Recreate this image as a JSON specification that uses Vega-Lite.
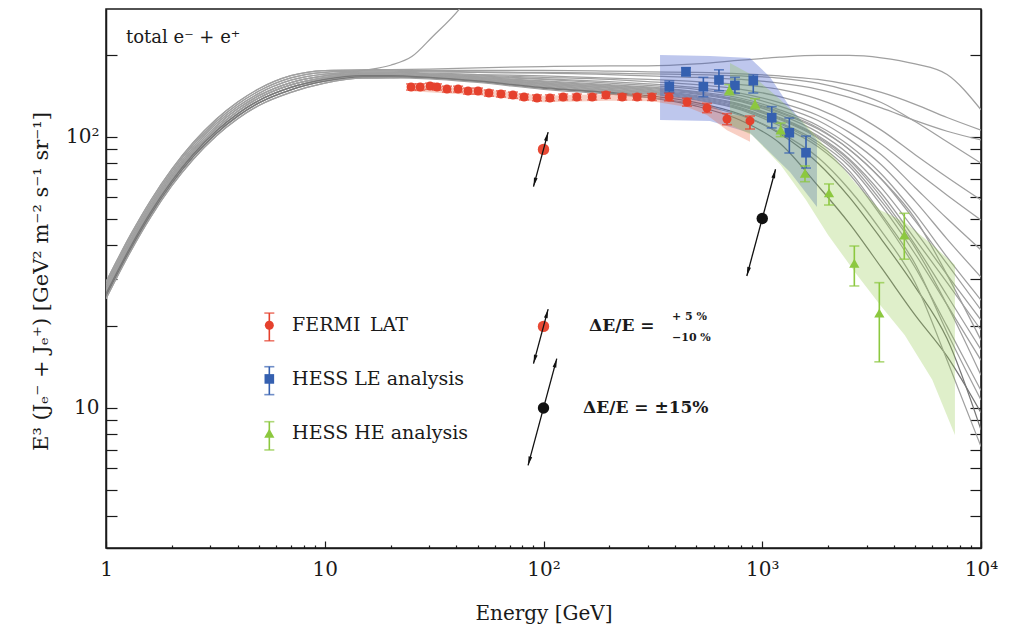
{
"$schema": "https://vega.github.io/schema/vega-lite/v6.json",
"width": 875, "height": 539,
"autosize": {"type": "none"},
"padding": {"left": 106, "top": 9, "right": 34, "bottom": 79},
"background": "white",
"config": {"view": {"stroke": "#1a1a1a", "strokeWidth": 1.5}, "font": "DejaVu Serif"},
"resolve": {"axis": {"y": "independent"}},
"datasets": {
"curves": [
{"c":"c0","e":1,"v":27.5},{"c":"c0","e":1.3,"v":41.3},{"c":"c0","e":1.6,"v":55},{"c":"c0","e":2,"v":71.8},{"c":"c0","e":2.5,"v":89.8},{"c":"c0","e":3.2,"v":109.9},{"c":"c0","e":4,"v":127},{"c":"c0","e":5,"v":142.1},{"c":"c0","e":7,"v":158.8},{"c":"c0","e":10,"v":168.2},{"c":"c0","e":15,"v":176},{"c":"c0","e":20,"v":184},{"c":"c0","e":25,"v":198},{"c":"c0","e":31,"v":234},{"c":"c0","e":41.6,"v":299},{"c":"c0","e":55,"v":420},
{"c":"c1","e":1,"v":29.2},{"c":"c1","e":1.3,"v":43.8},{"c":"c1","e":1.6,"v":58.3},{"c":"c1","e":2,"v":76.1},{"c":"c1","e":2.5,"v":95.2},{"c":"c1","e":3.2,"v":116.5},{"c":"c1","e":4,"v":134.6},{"c":"c1","e":5,"v":150.6},{"c":"c1","e":7,"v":168.3},{"c":"c1","e":10,"v":175.8},{"c":"c1","e":15,"v":177},{"c":"c1","e":20,"v":177.2},{"c":"c1","e":30,"v":178},{"c":"c1","e":50,"v":180},{"c":"c1","e":100,"v":182},{"c":"c1","e":200,"v":183},{"c":"c1","e":300,"v":183},{"c":"c1","e":500,"v":186},{"c":"c1","e":800,"v":192},{"c":"c1","e":1200,"v":197},{"c":"c1","e":1800,"v":200},{"c":"c1","e":2500,"v":200},{"c":"c1","e":3500,"v":196},{"c":"c1","e":5000,"v":186},{"c":"c1","e":7000,"v":170},{"c":"c1","e":10000,"v":126},
{"c":"c2","e":1,"v":28.6},{"c":"c2","e":1.3,"v":43},{"c":"c2","e":1.6,"v":57.2},{"c":"c2","e":2,"v":74.7},{"c":"c2","e":2.5,"v":93.4},{"c":"c2","e":3.2,"v":114.3},{"c":"c2","e":4,"v":132.1},{"c":"c2","e":5,"v":147.8},{"c":"c2","e":7,"v":165.2},{"c":"c2","e":10,"v":173.2},{"c":"c2","e":15,"v":175.2},{"c":"c2","e":20,"v":175.4},{"c":"c2","e":30,"v":176},{"c":"c2","e":50,"v":176},{"c":"c2","e":100,"v":176},{"c":"c2","e":200,"v":175},{"c":"c2","e":300,"v":174},{"c":"c2","e":500,"v":173},{"c":"c2","e":800,"v":171},{"c":"c2","e":1200,"v":168},{"c":"c2","e":1800,"v":163},{"c":"c2","e":2500,"v":156},{"c":"c2","e":3500,"v":146},{"c":"c2","e":5000,"v":132},{"c":"c2","e":7000,"v":118},{"c":"c2","e":10000,"v":106},
{"c":"c3","e":1,"v":27.5},{"c":"c3","e":1.3,"v":41.3},{"c":"c3","e":1.6,"v":55},{"c":"c3","e":2,"v":71.8},{"c":"c3","e":2.5,"v":89.8},{"c":"c3","e":3.2,"v":109.9},{"c":"c3","e":4,"v":127},{"c":"c3","e":5,"v":142.1},{"c":"c3","e":7,"v":158.8},{"c":"c3","e":10,"v":168.2},{"c":"c3","e":15,"v":171.8},{"c":"c3","e":20,"v":172},{"c":"c3","e":30,"v":174},{"c":"c3","e":50,"v":173},{"c":"c3","e":100,"v":172},{"c":"c3","e":200,"v":170},{"c":"c3","e":300,"v":168},{"c":"c3","e":500,"v":166},{"c":"c3","e":800,"v":163},{"c":"c3","e":1200,"v":158},{"c":"c3","e":1800,"v":150},{"c":"c3","e":2500,"v":140},{"c":"c3","e":3500,"v":128},{"c":"c3","e":5000,"v":115},{"c":"c3","e":7000,"v":105},{"c":"c3","e":10000,"v":97.5},
{"c":"c4","e":1,"v":28.1},{"c":"c4","e":1.3,"v":42.1},{"c":"c4","e":1.6,"v":56.1},{"c":"c4","e":2,"v":73.2},{"c":"c4","e":2.5,"v":91.6},{"c":"c4","e":3.2,"v":112.1},{"c":"c4","e":4,"v":129.5},{"c":"c4","e":5,"v":144.9},{"c":"c4","e":7,"v":162},{"c":"c4","e":10,"v":170.7},{"c":"c4","e":15,"v":173.5},{"c":"c4","e":20,"v":173.7},{"c":"c4","e":30,"v":175},{"c":"c4","e":50,"v":174},{"c":"c4","e":100,"v":173},{"c":"c4","e":200,"v":172},{"c":"c4","e":300,"v":171},{"c":"c4","e":500,"v":170},{"c":"c4","e":800,"v":168},{"c":"c4","e":1200,"v":165},{"c":"c4","e":1800,"v":158},{"c":"c4","e":2500,"v":148},{"c":"c4","e":3500,"v":134},{"c":"c4","e":5000,"v":114},{"c":"c4","e":7000,"v":96},{"c":"c4","e":10000,"v":80},
{"c":"c5","e":1,"v":27},{"c":"c5","e":1.3,"v":40.5},{"c":"c5","e":1.6,"v":53.9},{"c":"c5","e":2,"v":70.4},{"c":"c5","e":2.5,"v":88},{"c":"c5","e":3.2,"v":107.7},{"c":"c5","e":4,"v":124.5},{"c":"c5","e":5,"v":139.3},{"c":"c5","e":7,"v":155.6},{"c":"c5","e":10,"v":165.7},{"c":"c5","e":15,"v":170.1},{"c":"c5","e":20,"v":170.3},{"c":"c5","e":30,"v":172},{"c":"c5","e":50,"v":170},{"c":"c5","e":100,"v":168},{"c":"c5","e":200,"v":165},{"c":"c5","e":300,"v":163},{"c":"c5","e":500,"v":160},{"c":"c5","e":800,"v":156},{"c":"c5","e":1200,"v":150},{"c":"c5","e":1800,"v":138},{"c":"c5","e":2500,"v":124},{"c":"c5","e":3500,"v":106},{"c":"c5","e":5000,"v":86},{"c":"c5","e":7000,"v":71},{"c":"c5","e":10000,"v":58.5},
{"c":"c6","e":1,"v":27.5},{"c":"c6","e":1.3,"v":41.3},{"c":"c6","e":1.6,"v":55},{"c":"c6","e":2,"v":71.8},{"c":"c6","e":2.5,"v":89.8},{"c":"c6","e":3.2,"v":109.9},{"c":"c6","e":4,"v":127},{"c":"c6","e":5,"v":142.1},{"c":"c6","e":7,"v":158.8},{"c":"c6","e":10,"v":168.2},{"c":"c6","e":15,"v":171.8},{"c":"c6","e":20,"v":172},{"c":"c6","e":30,"v":171},{"c":"c6","e":50,"v":169},{"c":"c6","e":100,"v":166},{"c":"c6","e":200,"v":163},{"c":"c6","e":300,"v":160},{"c":"c6","e":500,"v":156},{"c":"c6","e":800,"v":150},{"c":"c6","e":1200,"v":141},{"c":"c6","e":1800,"v":127},{"c":"c6","e":2500,"v":112},{"c":"c6","e":3500,"v":94},{"c":"c6","e":5000,"v":75},{"c":"c6","e":7000,"v":61},{"c":"c6","e":10000,"v":49.4},
{"c":"c7","e":1,"v":26.4},{"c":"c7","e":1.3,"v":39.6},{"c":"c7","e":1.6,"v":52.8},{"c":"c7","e":2,"v":68.9},{"c":"c7","e":2.5,"v":86.2},{"c":"c7","e":3.2,"v":105.5},{"c":"c7","e":4,"v":121.9},{"c":"c7","e":5,"v":136.4},{"c":"c7","e":7,"v":152.4},{"c":"c7","e":10,"v":163.2},{"c":"c7","e":15,"v":168.4},{"c":"c7","e":20,"v":168.6},{"c":"c7","e":30,"v":170},{"c":"c7","e":50,"v":168},{"c":"c7","e":100,"v":164},{"c":"c7","e":200,"v":160},{"c":"c7","e":300,"v":157},{"c":"c7","e":500,"v":152},{"c":"c7","e":800,"v":145},{"c":"c7","e":1200,"v":134},{"c":"c7","e":1800,"v":120},{"c":"c7","e":2500,"v":104},{"c":"c7","e":3500,"v":86},{"c":"c7","e":5000,"v":65},{"c":"c7","e":7000,"v":50},{"c":"c7","e":10000,"v":38.3},
{"c":"c8","e":1,"v":28.6},{"c":"c8","e":1.3,"v":43},{"c":"c8","e":1.6,"v":57.2},{"c":"c8","e":2,"v":74.7},{"c":"c8","e":2.5,"v":93.4},{"c":"c8","e":3.2,"v":114.3},{"c":"c8","e":4,"v":132.1},{"c":"c8","e":5,"v":147.8},{"c":"c8","e":7,"v":165.2},{"c":"c8","e":10,"v":173.2},{"c":"c8","e":15,"v":175.2},{"c":"c8","e":20,"v":175.4},{"c":"c8","e":30,"v":170},{"c":"c8","e":50,"v":167},{"c":"c8","e":100,"v":163},{"c":"c8","e":200,"v":158},{"c":"c8","e":300,"v":155},{"c":"c8","e":500,"v":150},{"c":"c8","e":800,"v":142},{"c":"c8","e":1200,"v":130},{"c":"c8","e":1800,"v":115},{"c":"c8","e":2500,"v":98},{"c":"c8","e":3500,"v":79},{"c":"c8","e":5000,"v":58},{"c":"c8","e":7000,"v":42},{"c":"c8","e":10000,"v":30.4},
{"c":"c9","e":1,"v":27},{"c":"c9","e":1.3,"v":40.5},{"c":"c9","e":1.6,"v":53.9},{"c":"c9","e":2,"v":70.4},{"c":"c9","e":2.5,"v":88},{"c":"c9","e":3.2,"v":107.7},{"c":"c9","e":4,"v":124.5},{"c":"c9","e":5,"v":139.3},{"c":"c9","e":7,"v":155.6},{"c":"c9","e":10,"v":165.7},{"c":"c9","e":15,"v":170.1},{"c":"c9","e":20,"v":170.3},{"c":"c9","e":30,"v":169},{"c":"c9","e":50,"v":166},{"c":"c9","e":100,"v":161},{"c":"c9","e":200,"v":156},{"c":"c9","e":300,"v":153},{"c":"c9","e":500,"v":147},{"c":"c9","e":800,"v":139},{"c":"c9","e":1200,"v":126},{"c":"c9","e":1800,"v":110},{"c":"c9","e":2500,"v":93},{"c":"c9","e":3500,"v":73},{"c":"c9","e":5000,"v":52},{"c":"c9","e":7000,"v":36},{"c":"c9","e":10000,"v":25},
{"c":"c10","e":1,"v":28.1},{"c":"c10","e":1.3,"v":42.1},{"c":"c10","e":1.6,"v":56.1},{"c":"c10","e":2,"v":73.2},{"c":"c10","e":2.5,"v":91.6},{"c":"c10","e":3.2,"v":112.1},{"c":"c10","e":4,"v":129.5},{"c":"c10","e":5,"v":144.9},{"c":"c10","e":7,"v":162},{"c":"c10","e":10,"v":170.7},{"c":"c10","e":15,"v":173.5},{"c":"c10","e":20,"v":173.7},{"c":"c10","e":30,"v":170},{"c":"c10","e":50,"v":166},{"c":"c10","e":100,"v":160},{"c":"c10","e":200,"v":155},{"c":"c10","e":300,"v":152},{"c":"c10","e":500,"v":146},{"c":"c10","e":800,"v":137},{"c":"c10","e":1200,"v":124},{"c":"c10","e":1800,"v":108},{"c":"c10","e":2500,"v":90},{"c":"c10","e":3500,"v":70},{"c":"c10","e":5000,"v":49},{"c":"c10","e":7000,"v":34},{"c":"c10","e":10000,"v":23},
{"c":"c11","e":1,"v":26.4},{"c":"c11","e":1.3,"v":39.6},{"c":"c11","e":1.6,"v":52.8},{"c":"c11","e":2,"v":68.9},{"c":"c11","e":2.5,"v":86.2},{"c":"c11","e":3.2,"v":105.5},{"c":"c11","e":4,"v":121.9},{"c":"c11","e":5,"v":136.4},{"c":"c11","e":7,"v":152.4},{"c":"c11","e":10,"v":163.2},{"c":"c11","e":15,"v":168.4},{"c":"c11","e":20,"v":168.6},{"c":"c11","e":30,"v":168},{"c":"c11","e":50,"v":164},{"c":"c11","e":100,"v":158},{"c":"c11","e":200,"v":153},{"c":"c11","e":300,"v":150},{"c":"c11","e":500,"v":144},{"c":"c11","e":800,"v":135},{"c":"c11","e":1200,"v":121},{"c":"c11","e":1800,"v":104},{"c":"c11","e":2500,"v":86},{"c":"c11","e":3500,"v":65},{"c":"c11","e":5000,"v":45},{"c":"c11","e":7000,"v":31},{"c":"c11","e":10000,"v":21.1},
{"c":"c12","e":1,"v":25.9},{"c":"c12","e":1.3,"v":38.8},{"c":"c12","e":1.6,"v":51.7},{"c":"c12","e":2,"v":67.5},{"c":"c12","e":2.5,"v":84.4},{"c":"c12","e":3.2,"v":103.3},{"c":"c12","e":4,"v":119.4},{"c":"c12","e":5,"v":133.6},{"c":"c12","e":7,"v":149.3},{"c":"c12","e":10,"v":160.6},{"c":"c12","e":15,"v":166.6},{"c":"c12","e":20,"v":166.8},{"c":"c12","e":30,"v":167},{"c":"c12","e":50,"v":163},{"c":"c12","e":100,"v":157},{"c":"c12","e":200,"v":152},{"c":"c12","e":300,"v":149},{"c":"c12","e":500,"v":142},{"c":"c12","e":800,"v":132},{"c":"c12","e":1200,"v":118},{"c":"c12","e":1800,"v":101},{"c":"c12","e":2500,"v":83},{"c":"c12","e":3500,"v":62},{"c":"c12","e":5000,"v":42},{"c":"c12","e":7000,"v":29},{"c":"c12","e":10000,"v":19.4},
{"c":"c13","e":1,"v":25.3},{"c":"c13","e":1.3,"v":38},{"c":"c13","e":1.6,"v":50.6},{"c":"c13","e":2,"v":66.1},{"c":"c13","e":2.5,"v":82.6},{"c":"c13","e":3.2,"v":101.1},{"c":"c13","e":4,"v":116.8},{"c":"c13","e":5,"v":130.7},{"c":"c13","e":7,"v":146.1},{"c":"c13","e":10,"v":158.1},{"c":"c13","e":15,"v":164.9},{"c":"c13","e":20,"v":165.1},{"c":"c13","e":30,"v":169},{"c":"c13","e":50,"v":165},{"c":"c13","e":100,"v":159},{"c":"c13","e":200,"v":154},{"c":"c13","e":300,"v":151},{"c":"c13","e":500,"v":145},{"c":"c13","e":800,"v":136},{"c":"c13","e":1200,"v":123},{"c":"c13","e":1800,"v":107},{"c":"c13","e":2500,"v":90},{"c":"c13","e":3500,"v":70},{"c":"c13","e":5000,"v":50},{"c":"c13","e":7000,"v":31},{"c":"c13","e":10000,"v":17.8},
{"c":"c14","e":1,"v":27},{"c":"c14","e":1.3,"v":40.5},{"c":"c14","e":1.6,"v":53.9},{"c":"c14","e":2,"v":70.4},{"c":"c14","e":2.5,"v":88},{"c":"c14","e":3.2,"v":107.7},{"c":"c14","e":4,"v":124.5},{"c":"c14","e":5,"v":139.3},{"c":"c14","e":7,"v":155.6},{"c":"c14","e":10,"v":165.7},{"c":"c14","e":15,"v":170.1},{"c":"c14","e":20,"v":170.3},{"c":"c14","e":30,"v":168},{"c":"c14","e":50,"v":164},{"c":"c14","e":100,"v":157},{"c":"c14","e":200,"v":151},{"c":"c14","e":300,"v":148},{"c":"c14","e":500,"v":141},{"c":"c14","e":800,"v":131},{"c":"c14","e":1200,"v":117},{"c":"c14","e":1800,"v":100},{"c":"c14","e":2500,"v":82},{"c":"c14","e":3500,"v":60},{"c":"c14","e":5000,"v":40},{"c":"c14","e":7000,"v":26},{"c":"c14","e":10000,"v":16.4},
{"c":"c15","e":1,"v":26.4},{"c":"c15","e":1.3,"v":39.6},{"c":"c15","e":1.6,"v":52.8},{"c":"c15","e":2,"v":68.9},{"c":"c15","e":2.5,"v":86.2},{"c":"c15","e":3.2,"v":105.5},{"c":"c15","e":4,"v":121.9},{"c":"c15","e":5,"v":136.4},{"c":"c15","e":7,"v":152.4},{"c":"c15","e":10,"v":163.2},{"c":"c15","e":15,"v":168.4},{"c":"c15","e":20,"v":168.6},{"c":"c15","e":30,"v":167},{"c":"c15","e":50,"v":162},{"c":"c15","e":100,"v":155},{"c":"c15","e":200,"v":149},{"c":"c15","e":300,"v":146},{"c":"c15","e":500,"v":139},{"c":"c15","e":800,"v":128},{"c":"c15","e":1200,"v":113},{"c":"c15","e":1800,"v":96},{"c":"c15","e":2500,"v":78},{"c":"c15","e":3500,"v":56},{"c":"c15","e":5000,"v":37},{"c":"c15","e":7000,"v":24},{"c":"c15","e":10000,"v":15},
{"c":"c16","e":1,"v":29.2},{"c":"c16","e":1.3,"v":43.8},{"c":"c16","e":1.6,"v":58.3},{"c":"c16","e":2,"v":76.1},{"c":"c16","e":2.5,"v":95.2},{"c":"c16","e":3.2,"v":116.5},{"c":"c16","e":4,"v":134.6},{"c":"c16","e":5,"v":150.6},{"c":"c16","e":7,"v":168.3},{"c":"c16","e":10,"v":175.8},{"c":"c16","e":15,"v":177},{"c":"c16","e":20,"v":177.2},{"c":"c16","e":30,"v":168},{"c":"c16","e":50,"v":163},{"c":"c16","e":100,"v":156},{"c":"c16","e":200,"v":150},{"c":"c16","e":300,"v":147},{"c":"c16","e":500,"v":140},{"c":"c16","e":800,"v":130},{"c":"c16","e":1200,"v":116},{"c":"c16","e":1800,"v":99},{"c":"c16","e":2500,"v":80},{"c":"c16","e":3500,"v":58},{"c":"c16","e":5000,"v":39},{"c":"c16","e":7000,"v":24},{"c":"c16","e":10000,"v":13.2},
{"c":"c17","e":1,"v":25.9},{"c":"c17","e":1.3,"v":38.8},{"c":"c17","e":1.6,"v":51.7},{"c":"c17","e":2,"v":67.5},{"c":"c17","e":2.5,"v":84.4},{"c":"c17","e":3.2,"v":103.3},{"c":"c17","e":4,"v":119.4},{"c":"c17","e":5,"v":133.6},{"c":"c17","e":7,"v":149.3},{"c":"c17","e":10,"v":160.6},{"c":"c17","e":15,"v":166.6},{"c":"c17","e":20,"v":166.8},{"c":"c17","e":30,"v":166},{"c":"c17","e":50,"v":161},{"c":"c17","e":100,"v":153},{"c":"c17","e":200,"v":147},{"c":"c17","e":300,"v":144},{"c":"c17","e":500,"v":137},{"c":"c17","e":800,"v":126},{"c":"c17","e":1200,"v":110},{"c":"c17","e":1800,"v":92},{"c":"c17","e":2500,"v":73},{"c":"c17","e":3500,"v":51},{"c":"c17","e":5000,"v":33},{"c":"c17","e":7000,"v":20},{"c":"c17","e":10000,"v":11.6},
{"c":"c18","e":1,"v":27},{"c":"c18","e":1.3,"v":40.5},{"c":"c18","e":1.6,"v":53.9},{"c":"c18","e":2,"v":70.4},{"c":"c18","e":2.5,"v":88},{"c":"c18","e":3.2,"v":107.7},{"c":"c18","e":4,"v":124.5},{"c":"c18","e":5,"v":139.3},{"c":"c18","e":7,"v":155.6},{"c":"c18","e":10,"v":165.7},{"c":"c18","e":15,"v":170.1},{"c":"c18","e":20,"v":170.3},{"c":"c18","e":30,"v":167},{"c":"c18","e":50,"v":162},{"c":"c18","e":100,"v":154},{"c":"c18","e":200,"v":148},{"c":"c18","e":300,"v":145},{"c":"c18","e":500,"v":138},{"c":"c18","e":800,"v":127},{"c":"c18","e":1200,"v":112},{"c":"c18","e":1800,"v":94},{"c":"c18","e":2500,"v":75},{"c":"c18","e":3500,"v":52},{"c":"c18","e":5000,"v":34},{"c":"c18","e":7000,"v":19},{"c":"c18","e":10000,"v":10.7},
{"c":"c19","e":1,"v":25.9},{"c":"c19","e":1.3,"v":38.8},{"c":"c19","e":1.6,"v":51.7},{"c":"c19","e":2,"v":67.5},{"c":"c19","e":2.5,"v":84.4},{"c":"c19","e":3.2,"v":103.3},{"c":"c19","e":4,"v":119.4},{"c":"c19","e":5,"v":133.6},{"c":"c19","e":7,"v":149.3},{"c":"c19","e":10,"v":160.6},{"c":"c19","e":15,"v":166.6},{"c":"c19","e":20,"v":166.8},{"c":"c19","e":30,"v":165},{"c":"c19","e":50,"v":160},{"c":"c19","e":100,"v":151},{"c":"c19","e":200,"v":145},{"c":"c19","e":300,"v":140},{"c":"c19","e":500,"v":130},{"c":"c19","e":800,"v":115},{"c":"c19","e":1200,"v":95},{"c":"c19","e":1800,"v":66},{"c":"c19","e":2500,"v":48},{"c":"c19","e":3500,"v":33},{"c":"c19","e":5000,"v":22},{"c":"c19","e":7000,"v":15.5},{"c":"c19","e":10000,"v":9.6},
{"c":"c20","e":1,"v":26.4},{"c":"c20","e":1.3,"v":39.6},{"c":"c20","e":1.6,"v":52.8},{"c":"c20","e":2,"v":68.9},{"c":"c20","e":2.5,"v":86.2},{"c":"c20","e":3.2,"v":105.5},{"c":"c20","e":4,"v":121.9},{"c":"c20","e":5,"v":136.4},{"c":"c20","e":7,"v":152.4},{"c":"c20","e":10,"v":163.2},{"c":"c20","e":15,"v":168.4},{"c":"c20","e":20,"v":168.6},{"c":"c20","e":30,"v":166},{"c":"c20","e":50,"v":161},{"c":"c20","e":100,"v":152},{"c":"c20","e":200,"v":146},{"c":"c20","e":300,"v":142},{"c":"c20","e":500,"v":134},{"c":"c20","e":800,"v":121},{"c":"c20","e":1200,"v":103},{"c":"c20","e":1800,"v":80},{"c":"c20","e":2500,"v":60},{"c":"c20","e":3500,"v":42},{"c":"c20","e":5000,"v":28},{"c":"c20","e":7000,"v":18},{"c":"c20","e":10000,"v":8.3},
{"c":"c21","e":1,"v":25.3},{"c":"c21","e":1.3,"v":38},{"c":"c21","e":1.6,"v":50.6},{"c":"c21","e":2,"v":66.1},{"c":"c21","e":2.5,"v":82.6},{"c":"c21","e":3.2,"v":101.1},{"c":"c21","e":4,"v":116.8},{"c":"c21","e":5,"v":130.7},{"c":"c21","e":7,"v":146.1},{"c":"c21","e":10,"v":158.1},{"c":"c21","e":15,"v":164.9},{"c":"c21","e":20,"v":165.1},{"c":"c21","e":30,"v":164},{"c":"c21","e":50,"v":159},{"c":"c21","e":100,"v":150},{"c":"c21","e":200,"v":144},{"c":"c21","e":300,"v":140},{"c":"c21","e":500,"v":132},{"c":"c21","e":800,"v":120},{"c":"c21","e":1200,"v":104},{"c":"c21","e":1800,"v":84},{"c":"c21","e":2500,"v":64},{"c":"c21","e":3500,"v":45},{"c":"c21","e":5000,"v":29},{"c":"c21","e":7000,"v":15},{"c":"c21","e":10000,"v":7.2}
],
"bands": [
{"b":"blue","e":341,"lo":115.5,"hi":200.7},{"b":"blue","e":577,"lo":114.6,"hi":199},{"b":"blue","e":879,"lo":103.5,"hi":195.7},{"b":"blue","e":1085,"lo":87.7,"hi":166.5},{"b":"blue","e":1339,"lo":74.3,"hi":129},{"b":"blue","e":1779,"lo":55.2,"hi":97.5},
{"b":"salmon","e":24.8,"lo":147.5,"hi":156},{"b":"salmon","e":50,"lo":142.6,"hi":150.8},{"b":"salmon","e":100,"lo":134.4,"hi":142},{"b":"salmon","e":200,"lo":136,"hi":144},{"b":"salmon","e":313,"lo":135.6,"hi":143.3},{"b":"salmon","e":453,"lo":129,"hi":139},{"b":"salmon","e":559,"lo":120.6,"hi":134},{"b":"salmon","e":690,"lo":106,"hi":121},{"b":"salmon","e":879,"lo":96,"hi":119},
{"b":"green","e":712,"lo":110.7,"hi":187.6},{"b":"green","e":897,"lo":101.7,"hi":169.4},{"b":"green","e":1214,"lo":78.8,"hi":136.9},{"b":"green","e":1585,"lo":58.5,"hi":110.7},{"b":"green","e":2000,"lo":43.5,"hi":89.5},{"b":"green","e":2708,"lo":31,"hi":66.5},{"b":"green","e":3460,"lo":24,"hi":53.8},{"b":"green","e":4477,"lo":18.6,"hi":48.6},{"b":"green","e":5987,"lo":12.7,"hi":40},{"b":"green","e":7600,"lo":7.95,"hi":33.7}
],
"pts": [
{"s":"F","e":24.8,"v":152.9,"lo":149,"hi":157},{"s":"F","e":27.3,"v":152.9,"lo":149,"hi":157},{"s":"F","e":30.3,"v":154.2,"lo":150,"hi":158},{"s":"F","e":32.6,"v":152.9,"lo":149,"hi":157},{"s":"F","e":36.2,"v":150.3,"lo":146.5,"hi":154},{"s":"F","e":40.7,"v":150.3,"lo":146.5,"hi":154},{"s":"F","e":45.2,"v":147.8,"lo":144,"hi":151.5},{"s":"F","e":50.2,"v":147.8,"lo":144,"hi":151.5},{"s":"F","e":56.3,"v":145.3,"lo":141.5,"hi":149},{"s":"F","e":63.9,"v":144.1,"lo":140.5,"hi":148},{"s":"F","e":72.5,"v":142.9,"lo":139,"hi":146.5},{"s":"F","e":81.5,"v":140.5,"lo":137,"hi":144},{"s":"F","e":93.4,"v":139.3,"lo":136,"hi":143},{"s":"F","e":107,"v":139.3,"lo":136,"hi":143},{"s":"F","e":123,"v":140.5,"lo":137,"hi":144},{"s":"F","e":142,"v":140.5,"lo":137,"hi":144},{"s":"F","e":167,"v":140.5,"lo":137,"hi":144},{"s":"F","e":193,"v":142.9,"lo":139,"hi":146.5},{"s":"F","e":229,"v":140.5,"lo":137,"hi":144},{"s":"F","e":268,"v":140.5,"lo":137,"hi":144},{"s":"F","e":313,"v":140.5,"lo":136.5,"hi":144.5},{"s":"F","e":375,"v":140.5,"lo":136,"hi":145},{"s":"F","e":453,"v":134.6,"lo":130,"hi":139},{"s":"F","e":559,"v":127.9,"lo":123,"hi":133},{"s":"F","e":690,"v":116.5,"lo":111,"hi":122},{"s":"F","e":879,"v":114.6,"lo":107,"hi":119.5},
{"s":"L","e":376,"v":153.3,"lo":145.7,"hi":161},{"s":"L","e":448,"v":174.2,"lo":168,"hi":180},{"s":"L","e":538,"v":153.3,"lo":140.8,"hi":166},{"s":"L","e":634,"v":162.3,"lo":148.1,"hi":177},{"s":"L","e":750,"v":155,"lo":145,"hi":166},{"s":"L","e":910,"v":161.4,"lo":145.3,"hi":169.4},{"s":"L","e":1105,"v":117.8,"lo":108,"hi":129.4},{"s":"L","e":1330,"v":103.7,"lo":87.3,"hi":117.5},{"s":"L","e":1585,"v":87.5,"lo":76.8,"hi":100.8},
{"s":"H","e":707,"v":149.1,"lo":143,"hi":156},{"s":"H","e":927,"v":132.4,"lo":126.8,"hi":138.5},{"s":"H","e":1214,"v":106.1,"lo":100.3,"hi":112.6},{"s":"H","e":1568,"v":73.5,"lo":68.4,"hi":78.2},{"s":"H","e":2019,"v":62.2,"lo":56.1,"hi":67.1},{"s":"H","e":2636,"v":34.2,"lo":28.2,"hi":39.6},{"s":"H","e":3429,"v":22.4,"lo":14.8,"hi":29},{"s":"H","e":4460,"v":43.5,"lo":35.4,"hi":52.3},
{"s":"F","e":5.58,"v":20.2,"lo":17.7,"hi":22.4},{"s":"L","e":5.58,"v":12.8,"lo":11.2,"hi":14.2},{"s":"H","e":5.58,"v":8.07,"lo":7.0,"hi":8.9}
],
"dots": [
{"k":"r","e":100,"v":90},{"k":"r","e":100,"v":20},{"k":"b","e":1000,"v":50},{"k":"b","e":100,"v":10}
],
"arrows": [
{"a":"a1","e1":90,"v1":65.6,"e2":105,"v2":104.2},{"a":"a2","e1":850,"v1":30.7,"e2":1150,"v2":76.0},{"a":"a3","e1":90,"v1":14.58,"e2":105,"v2":23.15},{"a":"a4","e1":85,"v1":6.14,"e2":115,"v2":15.21}
],
"heads": [
{"d":"u","e":103.7,"v":100.4},{"d":"d","e":91.1,"v":68.1},{"d":"u","e":1136,"v":73.2},{"d":"d","e":860.5,"v":31.85},{"d":"u","e":103.7,"v":22.31},{"d":"d","e":91.1,"v":15.13},{"d":"u","e":113.6,"v":14.66},{"d":"d","e":86.05,"v":6.37}
]
},
"layer": [
{"data": {"name": "curves"},
 "mark": {"type": "line", "interpolate": "monotone", "strokeWidth": 1.25, "clip": true},
 "encoding": {
  "x": {"field": "e", "type": "quantitative", "scale": {"type": "log", "domain": [1, 10000], "nice": false},
   "axis": {"values": [1,2,3,4,5,6,7,8,9,10,20,30,40,50,60,70,80,90,100,200,300,400,500,600,700,800,900,1000,2000,3000,4000,5000,6000,7000,8000,9000,10000],
    "labelExpr": "datum.value==1?'1':datum.value==10?'10':datum.value==100?'10²':datum.value==1000?'10³':datum.value==10000?'10⁴':''",
    "tickSize": {"condition": {"test": "indexof([1,10,100,1000,10000], datum.value) >= 0", "value": -7}, "value": -3},
    "tickColor": "#1a1a1a", "tickWidth": 1.2, "domainColor": "#1a1a1a", "domainWidth": 1.5, "grid": false,
    "labelFont": "DejaVu Serif", "labelFontSize": 20, "labelColor": "#1a1a1a", "labelPadding": 18, "labelFlush": false, "labelOverlap": false,
    "title": "Energy [GeV]", "titleFont": "DejaVu Serif", "titleFontSize": 20, "titleFontWeight": "normal", "titleColor": "#1a1a1a", "titleY": 71, "titleBaseline": "alphabetic"}},
  "y": {"field": "v", "type": "quantitative", "scale": {"type": "log", "domain": [3.043, 296.7], "nice": false},
   "axis": {"orient": "left", "values": [4,5,6,7,8,9,10,20,30,40,50,60,70,80,90,100,200],
    "labelExpr": "datum.value==10?'10':datum.value==100?'10²':''",
    "tickSize": -11, "tickColor": "#1a1a1a", "tickWidth": 1.2, "domainColor": "#1a1a1a", "domainWidth": 1.5, "grid": false,
    "labelFont": "DejaVu Serif", "labelFontSize": 20, "labelColor": "#1a1a1a", "labelPadding": 18, "labelOverlap": false,
    "title": "E³ (Jₑ⁻ + Jₑ⁺) [GeV² m⁻² s⁻¹ sr⁻¹]", "titleFont": "DejaVu Serif", "titleFontSize": 21, "titleFontWeight": "normal", "titleColor": "#1a1a1a",
    "titleAngle": -90, "titleX": -59, "titleY": 272, "titleAlign": "center", "titleBaseline": "alphabetic"}},
  "detail": {"field": "c"},
  "color": {"condition": {"test": "datum.c=='c19'||datum.c=='c20'", "value": "#777777"}, "value": "#a0a0a0"}
 }},
{"data": {"name": "bands"}, "transform": [{"filter": "datum.b=='blue'"}],
 "mark": {"type": "area", "color": "#3a55c8", "opacity": 0.33},
 "encoding": {"x": {"field": "e", "type": "quantitative"}, "y": {"field": "lo", "type": "quantitative", "axis": null}, "y2": {"field": "hi"}}},
{"data": {"name": "bands"}, "transform": [{"filter": "datum.b=='salmon'"}],
 "mark": {"type": "area", "color": "#e8603c", "opacity": 0.3},
 "encoding": {"x": {"field": "e", "type": "quantitative"}, "y": {"field": "lo", "type": "quantitative", "axis": null}, "y2": {"field": "hi"}}},
{"data": {"name": "bands"}, "transform": [{"filter": "datum.b=='green'"}],
 "mark": {"type": "area", "color": "#8cc63f", "opacity": 0.28},
 "encoding": {"x": {"field": "e", "type": "quantitative"}, "y": {"field": "lo", "type": "quantitative", "axis": null}, "y2": {"field": "hi"}}},
{"data": {"name": "pts"},
 "mark": {"type": "rule", "strokeWidth": 1.6},
 "encoding": {"x": {"field": "e", "type": "quantitative"}, "y": {"field": "lo", "type": "quantitative", "axis": null}, "y2": {"field": "hi"},
  "color": {"field": "s", "type": "nominal", "scale": {"domain": ["F","L","H"], "range": ["#e5412d","#3560b0","#8cc83f"]}, "legend": null}}},
{"data": {"name": "pts"},
 "mark": {"type": "tick", "orient": "horizontal", "size": 10, "thickness": 1.6},
 "encoding": {"x": {"field": "e", "type": "quantitative"}, "y": {"field": "lo", "type": "quantitative", "axis": null},
  "color": {"field": "s", "type": "nominal", "legend": null}}},
{"data": {"name": "pts"},
 "mark": {"type": "tick", "orient": "horizontal", "size": 10, "thickness": 1.6},
 "encoding": {"x": {"field": "e", "type": "quantitative"}, "y": {"field": "hi", "type": "quantitative", "axis": null},
  "color": {"field": "s", "type": "nominal", "legend": null}}},
{"data": {"name": "pts"},
 "mark": {"type": "point", "filled": true, "opacity": 1},
 "encoding": {"x": {"field": "e", "type": "quantitative"}, "y": {"field": "v", "type": "quantitative", "axis": null},
  "color": {"field": "s", "type": "nominal", "legend": null},
  "shape": {"field": "s", "type": "nominal", "scale": {"domain": ["F","L","H"], "range": ["circle","square","triangle-up"]}, "legend": null},
  "size": {"field": "s", "type": "nominal", "scale": {"domain": ["F","L","H"], "range": [80, 105, 120]}, "legend": null}}},
{"data": {"name": "dots"},
 "mark": {"type": "point", "filled": true, "opacity": 1, "size": 130, "shape": "circle"},
 "encoding": {"x": {"field": "e", "type": "quantitative"}, "y": {"field": "v", "type": "quantitative", "axis": null},
  "fill": {"condition": {"test": "datum.k=='r'", "value": "#e84a35"}, "value": "#111111"}}},
{"data": {"name": "arrows"},
 "mark": {"type": "rule", "strokeWidth": 1.3, "color": "#111111"},
 "encoding": {"x": {"field": "e1", "type": "quantitative"}, "x2": {"field": "e2"},
  "y": {"field": "v1", "type": "quantitative",
   "axis": {"orient": "right", "values": [4,5,6,7,8,9,10,20,30,40,50,60,70,80,90,100,200], "labels": false, "tickSize": -11, "tickColor": "#1a1a1a", "tickWidth": 1.2, "domainColor": "#1a1a1a", "domainWidth": 1.5, "grid": false, "title": null}},
  "y2": {"field": "v2"}}},
{"data": {"name": "heads"}, "transform": [{"filter": "datum.d=='u'"}],
 "mark": {"type": "point", "shape": "M-0.42,1L0,-1L0.42,1Z", "filled": true, "color": "#111111", "opacity": 1, "size": 80, "angle": 15},
 "encoding": {"x": {"field": "e", "type": "quantitative"}, "y": {"field": "v", "type": "quantitative", "axis": null}}},
{"data": {"name": "heads"}, "transform": [{"filter": "datum.d=='d'"}],
 "mark": {"type": "point", "shape": "M-0.42,1L0,-1L0.42,1Z", "filled": true, "color": "#111111", "opacity": 1, "size": 80, "angle": 195},
 "encoding": {"x": {"field": "e", "type": "quantitative"}, "y": {"field": "v", "type": "quantitative", "axis": null}}},
{"data": {"values": [{"t": "total e⁻ + e⁺", "e": 1.234, "v": 232}]},
 "mark": {"type": "text", "align": "left", "baseline": "middle", "font": "DejaVu Serif", "fontSize": 18, "color": "#1a1a1a"},
 "encoding": {"x": {"field": "e", "type": "quantitative"}, "y": {"field": "v", "type": "quantitative", "axis": null}, "text": {"field": "t"}}},
{"data": {"values": [{"t": "FERMI\u2002LAT", "e": 7.09, "v": 20.2}, {"t": "HESS LE analysis", "e": 7.09, "v": 12.8}, {"t": "HESS HE analysis", "e": 7.09, "v": 8.07}]},
 "mark": {"type": "text", "align": "left", "baseline": "middle", "font": "DejaVu Serif", "fontSize": 19, "color": "#1a1a1a"},
 "encoding": {"x": {"field": "e", "type": "quantitative"}, "y": {"field": "v", "type": "quantitative", "axis": null}, "text": {"field": "t"}}},
{"data": {"values": [{"t": "ΔE/E =", "e": 161.5, "v": 20.1}, {"t": "ΔE/E = ±15%", "e": 151.6, "v": 10}]},
 "mark": {"type": "text", "align": "left", "baseline": "middle", "font": "DejaVu Serif", "fontSize": 17, "fontWeight": "bold", "color": "#1a1a1a"},
 "encoding": {"x": {"field": "e", "type": "quantitative"}, "y": {"field": "v", "type": "quantitative", "axis": null}, "text": {"field": "t"}}},
{"data": {"values": [{"t": "+ 5 %", "e": 386.8, "v": 21.6}, {"t": "−10 %", "e": 386.8, "v": 18.2}]},
 "mark": {"type": "text", "align": "left", "baseline": "middle", "font": "DejaVu Serif", "fontSize": 11, "fontWeight": "bold", "color": "#1a1a1a"},
 "encoding": {"x": {"field": "e", "type": "quantitative"}, "y": {"field": "v", "type": "quantitative", "axis": null}, "text": {"field": "t"}}}
]
}
